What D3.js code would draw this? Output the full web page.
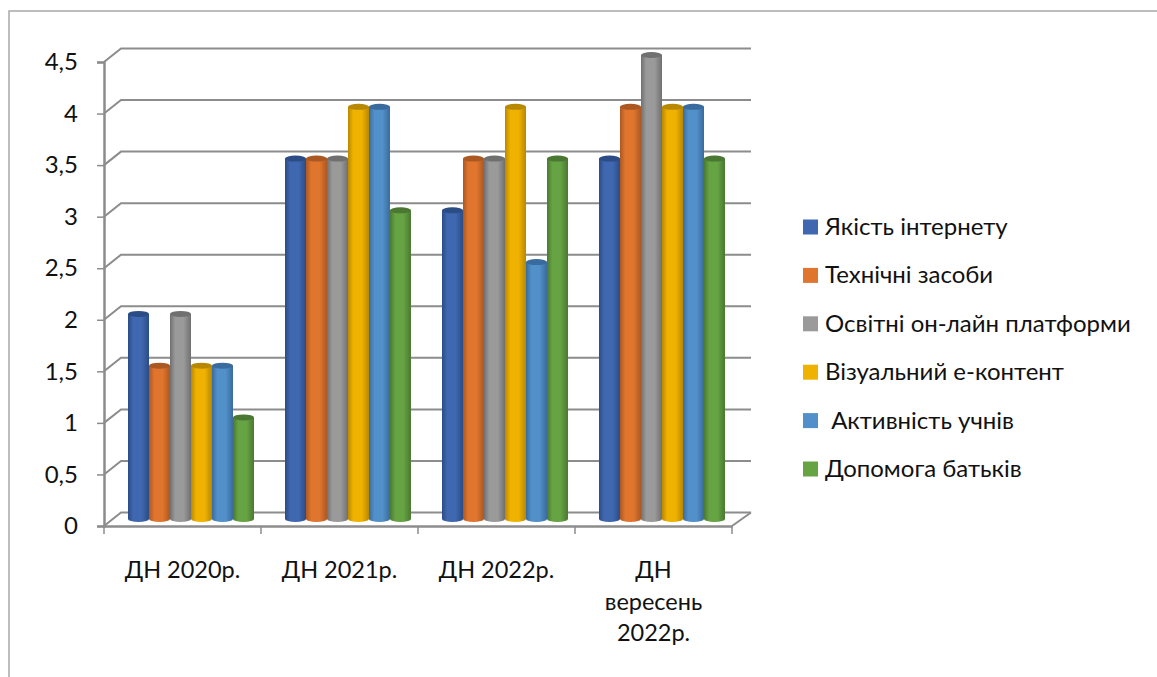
<!DOCTYPE html>
<html>
<head>
<meta charset="utf-8">
<script src="https://cdn.jsdelivr.net/npm/d3@7"></script>
<style>
html, body { margin: 0; padding: 0; background: #fff; }
svg { display: block; }
text { font-family: Lato, "Open Sans", sans-serif; fill: #111; font-size: 24px; }
</style>
</head>
<body>
<svg id="chart" width="1157" height="677"></svg>
<script>
var categories = ["ДН 2020р.", "ДН 2021р.", "ДН 2022р.", "ДН вересень 2022р."];
var categoryLines = [["ДН 2020р."], ["ДН 2021р."], ["ДН 2022р."], ["ДН", "вересень", "2022р."]];
var seriesNames = ["Якість інтернету", "Технічні засоби", "Освітні он-лайн платформи", "Візуальний е-контент", " Активність учнів", "Допомога батьків"];
var internet = [2, 3.5, 3, 3.5];
var devices = [1.5, 3.5, 3.5, 4];
var platforms = [2, 3.5, 3.5, 4.5];
var content = [1.5, 4, 4, 4];
var activity = [1.5, 4, 2.5, 4];
var parents = [1, 3, 3.5, 3.5];
var yTicks = [0, 0.5, 1, 1.5, 2, 2.5, 3, 3.5, 4, 4.5];
var colors = ["#3f68b0", "#e0752e", "#9a9a9a", "#f0b200", "#5190c8", "#65a343"];
var darks = ["#2b4c85", "#ab5822", "#707070", "#b88800", "#3a6b9e", "#4a7832"];

var allSeries = [internet, devices, platforms, content, activity, parents];

var svg = d3.select("#chart");
var depthX = 17, depthY = 13.5;	// wall offset of the fake 3d
var axisColor = "#8c8c8c";

var x = d3.scaleBand().domain(categories).range([104, 732]);
var y = d3.scaleLinear().domain([0, 4.5]).range([526, 62]);
var inner = d3.scaleBand().domain(d3.range(seriesNames.length)).range([24, 150]);
// bars stand in the middle of the floor and are a little shorter than the wall
var barY = d3.scaleLinear().domain([0, 4.5]).range([521, 55]);

// outer border
svg.append("path")
	.attr("d", "M9,677V11H1157")
	.attr("fill", "none")
	.attr("stroke", "#a8a8a8")
	.attr("stroke-width", 1.5);

// gridlines on back wall
var g_grid = svg.append("g");
g_grid.selectAll("path").data(yTicks).enter().append("path")
	.attr("d", function(d) {
		return "M104," + y(d) + "L" + (104 + depthX) + "," + (y(d) - depthY) + "H" + (732 + depthX + 2);
	})
	.attr("fill", "none")
	.attr("stroke", axisColor)
	.attr("stroke-width", 2);
// right edge of floor
svg.append("path")
	.attr("d", "M732," + y(0) + "L" + (732 + depthX + 2) + "," + (y(0) - depthY))
	.attr("fill", "none")
	.attr("stroke", axisColor)
	.attr("stroke-width", 2);

// axes
var yAxis = d3.axisLeft(y).tickValues(yTicks).tickSize(7).tickPadding(19)
	.tickFormat(function(d) { return String(d).replace(".", ","); });
var g_y = svg.append("g").attr("transform", "translate(104,0)").call(yAxis);
var xAxis = d3.axisBottom(x).tickValues([]).tickSizeOuter(0);
var g_x = svg.append("g").attr("transform", "translate(0,526)").call(xAxis);
g_x.selectAll("line.sep").data(d3.range(categories.length + 1)).enter().append("line")
	.attr("class", "sep")
	.attr("x1", function(i) { return 104 + i * x.step(); })
	.attr("x2", function(i) { return 104 + i * x.step(); })
	.attr("y1", 0).attr("y2", 8)
	.attr("stroke", axisColor).attr("stroke-width", 1.5);
g_y.attr("font-family", null).attr("font-size", null);
g_x.attr("font-family", null).attr("font-size", null);
g_y.select(".domain").attr("stroke", axisColor).attr("stroke-width", 2.5);
g_x.select(".domain").attr("stroke", axisColor).attr("stroke-width", 2.5);
g_y.selectAll(".tick line").attr("stroke", axisColor).attr("stroke-width", 1.5);
g_y.selectAll("text").attr("fill", null);

// category labels
var g_labels = svg.append("g");
categoryLines.forEach(function(lines, i) {
	lines.forEach(function(t, j) {
		g_labels.append("text")
			.attr("x", x(categories[i]) + x.bandwidth() / 2)
			.attr("y", 578 + j * 31.5)
			.attr("text-anchor", "middle")
			.style("font-size", "23.5px")
			.text(t);
	});
});

// cylinder shading
var defs = svg.append("defs");
colors.forEach(function(c, i) {
	var grad = defs.append("linearGradient").attr("id", "cyl" + i);
	grad.append("stop").attr("offset", "0%").attr("stop-color", darks[i]);
	grad.append("stop").attr("offset", "25%").attr("stop-color", c);
	grad.append("stop").attr("offset", "65%").attr("stop-color", c);
	grad.append("stop").attr("offset", "100%").attr("stop-color", darks[i]);
});

// bars, left to right so each one overlaps the previous edge
var g_bars = svg.append("g");
allSeries.forEach(function(values, s) {
	values.forEach(function(v, c) {
		var left = x(categories[c]) + inner(s);
		var w = inner.bandwidth();
		var top = barY(v), base = barY(0) - 2;
		var rx = w / 2, ry = 3;
		g_bars.append("path")
			.attr("d", "M" + left + "," + top + "V" + base
				+ "A" + rx + "," + ry + " 0 0 0 " + (left + w) + "," + base
				+ "V" + top + "Z")
			.attr("fill", "url(#cyl" + s + ")");
		g_bars.append("ellipse")
			.attr("cx", left + rx).attr("cy", top)
			.attr("rx", rx).attr("ry", ry)
			.attr("fill", darks[s]);
	});
});

// legend
var legendY = d3.scalePoint().domain(d3.range(seriesNames.length)).range([227, 469]);
var g_legend = svg.append("g");
seriesNames.forEach(function(name, i) {
	g_legend.append("rect")
		.attr("x", 803).attr("y", legendY(i) - 7.5)
		.attr("width", 15).attr("height", 15)
		.attr("fill", colors[i]);
	g_legend.append("text")
		.attr("x", 825).attr("y", legendY(i) + 8)
		.style("white-space", "pre")
		.text(name);
});
</script>
</body>
</html>
